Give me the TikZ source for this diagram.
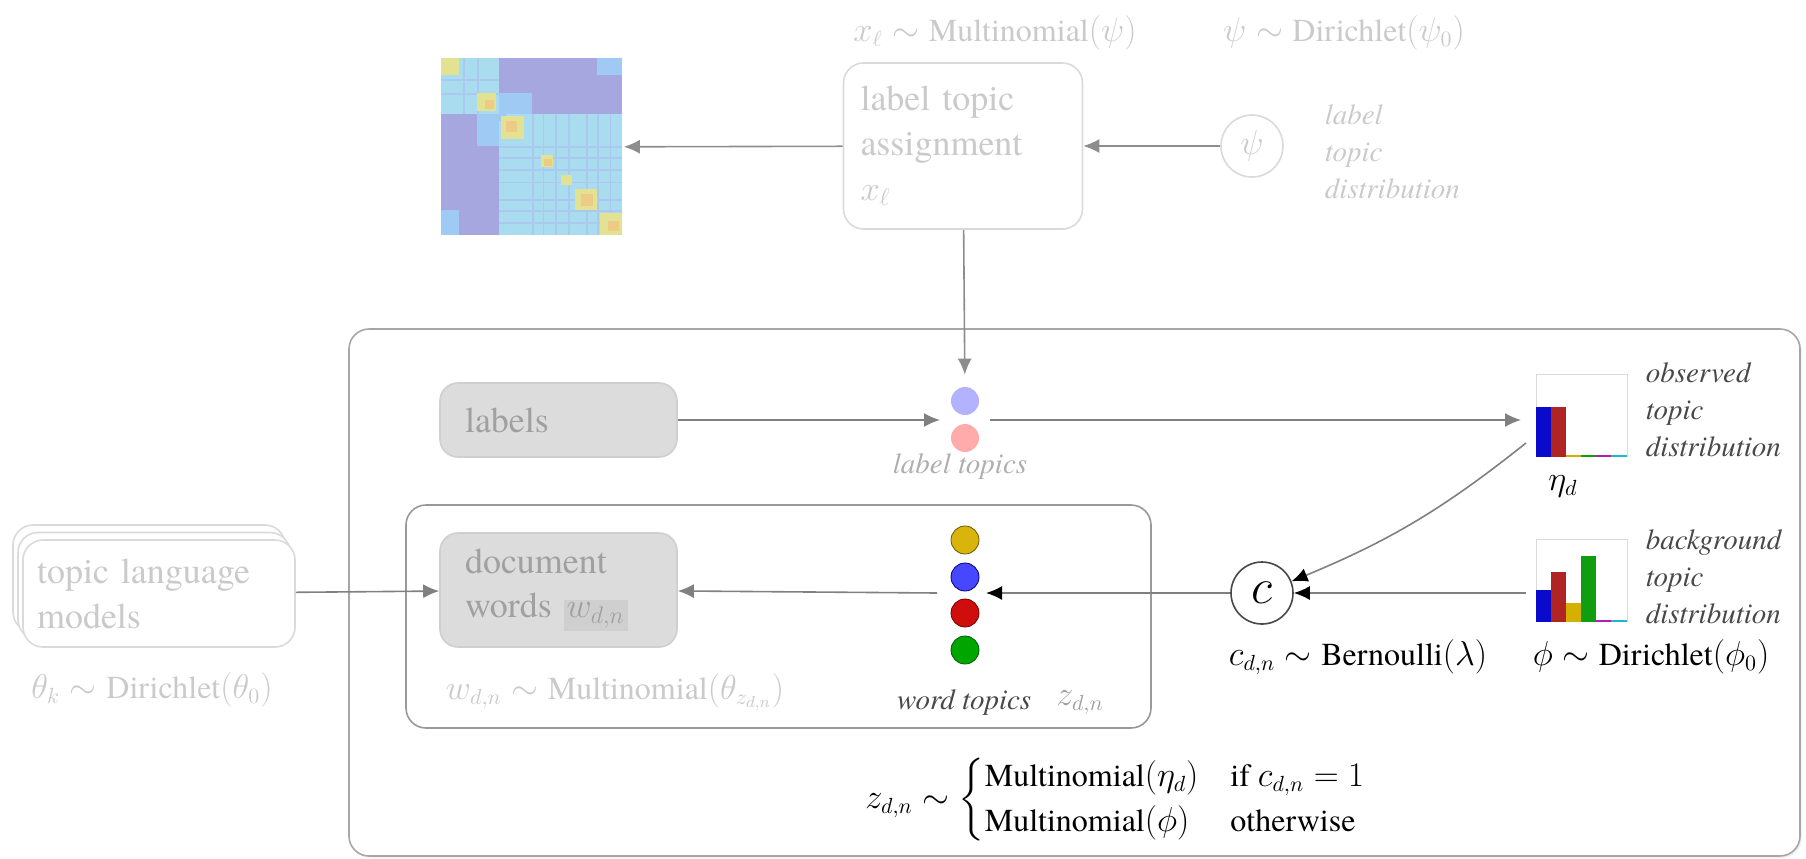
\documentclass[tikz,border=0pt]{standalone}
\usepackage{amsmath}
\usepackage{fontspec}
\IfFontExistsTF{texgyretermes-regular.otf}{%
  \setmainfont{texgyretermes}[Extension=.otf, UprightFont=*-regular, ItalicFont=*-italic,
    BoldFont=*-bold, BoldItalicFont=*-bolditalic]}{}
\usepackage{tikz}
\usetikzlibrary{arrows.meta,positioning,calc,shadows}

\definecolor{fadetext}{HTML}{CACACA}
\definecolor{fadeline}{HTML}{DADADA}
\definecolor{midtext}{HTML}{A0A0A0}
\definecolor{boxfill}{HTML}{DCDCDC}
\definecolor{wbox}{HTML}{CFCFCF}
\definecolor{linegray}{HTML}{808080}
\definecolor{notegray}{HTML}{484848}
\definecolor{hpurple}{HTML}{A7A7E0}
\definecolor{hcyan}{HTML}{A8DCEE}
\definecolor{hblue}{HTML}{9FCAF4}
\definecolor{hstreak}{HTML}{ABC8EE}
\definecolor{hyellow}{HTML}{E3E292}
\definecolor{horange}{HTML}{EDCB84}
\definecolor{barblue}{HTML}{0A0ACC}
\definecolor{barred}{HTML}{B02424}
\definecolor{baryellow}{HTML}{D6B000}
\definecolor{bargreen}{HTML}{109E10}
\definecolor{barmagenta}{HTML}{B020B0}
\definecolor{barcyan}{HTML}{20B8C8}

\begin{document}
\begin{tikzpicture}[x=0.5pt, y=-0.5pt, ->, >={Latex[length=8pt,width=7pt]}, line width=0.8pt]
    \tikzstyle{fadebox}=[draw=fadeline, fill=white, rounded corners=10pt, text=fadetext, align=left,
        font=\fontsize{18}{22.5}\selectfont]
    \tikzstyle{graybox}=[draw=wbox, fill=boxfill, rounded corners=9pt, text=midtext, align=left,
        font=\fontsize{18}{22}\selectfont]
    \tikzstyle{formula}=[font=\fontsize{16}{19}\selectfont, inner sep=1pt]
    \tikzstyle{note}=[font=\fontsize{14.5}{18.5}\selectfont\itshape, text=notegray, align=left, inner sep=1pt]
    \tikzstyle{dot}=[circle, minimum size=14pt, inner sep=0pt, line width=0.4pt]
    \tikzstyle{hist}=[draw=fadeline, line width=0.5pt, minimum width=45.5pt, minimum height=41pt, inner sep=0pt]
    \tikzstyle{fadearrow}=[draw=linegray!90]
    \tikzstyle{grayarrow}=[draw=linegray]
    \tikzstyle{blackhead}=[draw=linegray, -{Latex[length=8pt,width=7pt,color=black]}]

    \useasboundingbox (0,0) rectangle (1806,858);

    % model frame and word plate
    \node[draw=linegray!70, fill=white, rounded corners=10pt, minimum width=725.5pt, minimum height=263.5pt,
        drop shadow={opacity=0.12, shadow xshift=1pt, shadow yshift=-1pt}] (model) at (1074.5,592.5) {};
    \node[draw=linegray!80, rounded corners=10pt, minimum width=372.5pt, minimum height=111.5pt] (plate) at (778.5,616.5) {};

    % label topic part (top)
    \node[fadebox, inner xsep=8.5pt, text width=102.5pt, minimum height=83pt] (assign) at (963,146)
        {label topic\\assignment\\$x_\ell$};
    \node[circle, draw=fadeline, text=fadetext, minimum size=31pt, inner sep=0pt, font=\fontsize{18}{20}\selectfont] (psi) at (1252,146) {$\psi$};
    \node[note, text=fadetext, anchor=west] (psilab) at (1322,152) {label\\topic\\distribution};
    \node[formula, text=fadetext] (xform) at (995,33) {$x_\ell \sim \text{Multinomial}(\psi)$};
    \node[formula, text=fadetext] (psiform) at (1344,33) {$\psi \sim \text{Dirichlet}(\psi_0)$};

    % label co-occurrence matrix
    \node[minimum width=90.5pt, minimum height=88.5pt, inner sep=0pt] (heat) at (532.5,147) {};
    \begin{scope}[shift={(heat.north west)}, x=90.5pt, y=-88.5pt, -]
        \fill[hpurple] (0,0) rectangle (1,1);
        \fill[hcyan] (0,0) rectangle (0.32,0.32);
        \fill[hcyan] (0.32,0.32) rectangle (1,1);
        \fill[hblue] (0.32,0.2) rectangle (0.5,0.32);
        \fill[hblue] (0.2,0.32) rectangle (0.32,0.5);
        \fill[hblue] (0.86,0) rectangle (1,0.1);
        \fill[hblue] (0,0.86) rectangle (0.1,1);
        \fill[hblue] (0.32,0.36) rectangle (0.36,0.32);
        \foreach \p in {0.12,0.2}{
            \fill[hstreak] (\p,0) rectangle (\p+0.01,0.32);
            \fill[hstreak] (0,\p) rectangle (0.32,\p+0.01);
        }
        \foreach \p in {0.5,0.56,0.63,0.7,0.8,0.86,0.93}{
            \fill[hstreak] (\p,0.32) rectangle (\p+0.01,1);
            \fill[hstreak] (0.32,\p) rectangle (1,\p+0.01);
        }
        \foreach \a/\b in {0/0.1, 0.2/0.3, 0.33/0.46, 0.55/0.62, 0.66/0.72, 0.74/0.86, 0.88/1}
            \fill[hyellow] (\a,\a) rectangle (\b,\b);
        \foreach \a/\b in {0.24/0.29, 0.36/0.42, 0.57/0.61, 0.77/0.84, 0.92/0.98}
            \fill[horange] (\a,\a) rectangle (\b,\b);
    \end{scope}

    % observed label topics
    \node[graybox, inner xsep=12.5pt, text width=93.5pt, minimum height=37pt] (labels) at (558.5,420) {labels};
    \node[dot, fill=blue!30] (lblue) at (965,401) {};
    \node[dot, fill=red!33] (lred) at (965,438) {};
    \node[note, text=midtext!85] (ltlab) at (960,467) {label topics};
    \coordinate (ltin) at (940,420);
    \coordinate (ltout) at (990,420);

    % histograms
    \node[hist] (etahist) at (1581.5,415) {};
    \foreach \c/\h [count=\i from 0] in {barblue/50,barred/50,baryellow/1.5,bargreen/1.5,barmagenta/1.5,barcyan/1.5}
        \fill[\c] ($(etahist.south west)+(\i*15.17,0)$) rectangle ++(15.17,-\h);
    \node[formula] (etalab)[below=8pt of etahist.south west, anchor=north west, xshift=5pt] {$\eta_d$};
    \node[note, anchor=west] (etanote) at (1643,410) {observed\\topic\\distribution};

    \node[hist] (phihist) at (1581.5,580) {};
    \foreach \c/\h [count=\i from 0] in {barblue/32,barred/50,baryellow/19,bargreen/66,barmagenta/1.5,barcyan/1.5}
        \fill[\c] ($(phihist.south west)+(\i*15.17,0)$) rectangle ++(15.17,-\h);
    \node[note, anchor=west] (phinote) at (1643,577) {background\\topic\\distribution};
    \node[formula] (phiform) at (1651,657) {$\phi \sim \text{Dirichlet}(\phi_0)$};
    \coordinate (etain) at (1521,420);
    \coordinate (etaout) at (1526,443);
    \coordinate (phiout) at (1526,593);

    % switch variable
    \node[circle, draw=notegray, minimum size=31pt, inner sep=0pt, font=\fontsize{26}{28}\selectfont] (c) at (1262,593) {$c$};
    \node[formula] (cform) at (1358,657) {$c_{d,n} \sim \text{Bernoulli}(\lambda)$};

    % word topics
    \node[dot, fill=baryellow!95, draw=baryellow!50!black] (wy) at (965,540) {};
    \node[dot, fill=blue!72, draw=blue!50!black] (wb) at (965,577) {};
    \node[dot, fill=red!80!black!95, draw=red!45!black] (wr) at (965,613) {};
    \node[dot, fill=green!65!black, draw=green!35!black] (wg) at (965,650) {};
    \node[note, anchor=east] (wtlab) at (1034,703) {word topics};
    \node[formula, text=midtext] (zlab) at (1080,703) {$z_{d,n}$};
    \coordinate (wtin) at (986,593);
    \coordinate (wtout) at (937,593);

    % document words
    \node[graybox, inner xsep=12.5pt, text width=93.5pt, minimum height=57pt] (docw) at (558.5,590)
        {document\\words {\setlength\fboxsep{1.5pt}\colorbox{wbox}{$w_{d,n}$}}};
    \node[formula, text=fadetext] (wform) at (615,692) {$w_{d,n} \sim \text{Multinomial}(\theta_{z_{d,n}})$};

    % topic language models (stack)
    \node[fadebox, inner xsep=7pt, text width=122pt, minimum height=53.5pt] (tlm3) at (149,578.5) {};
    \node[fadebox, inner xsep=7pt, text width=122pt, minimum height=53.5pt] (tlm2) at (154,586) {};
    \node[fadebox, inner xsep=7pt, text width=122pt, minimum height=53.5pt] (tlm) at (159,593.5)
        {topic language\\models};
    \node[formula, text=fadetext] (thform) at (152,690) {$\theta_k \sim \text{Dirichlet}(\theta_0)$};

    \node[formula] (zform) at (1116,800) {$z_{d,n} \sim
        \begin{cases}
            \text{Multinomial}(\eta_d) & \text{if } c_{d,n}=1\\
            \text{Multinomial}(\phi) & \text{otherwise}
        \end{cases}$};

    % edges
    \draw[fadearrow] (assign) -- (heat);
    \draw[fadearrow] (psi) -- (assign);
    \draw[fadearrow, shorten >=6pt] (assign) -- (lblue);
    \draw[grayarrow] (labels) -- (ltin);
    \draw[grayarrow] (ltout) -- (etain);
    \draw[blackhead] (etaout) to[bend left=8] (c);
    \draw[blackhead] (phiout) -- (c);
    \draw[blackhead] (c) -- (wtin);
    \draw[grayarrow] (wtout) -- (docw);
    \draw[grayarrow] (tlm) -- (docw);
\end{tikzpicture}
\end{document}
